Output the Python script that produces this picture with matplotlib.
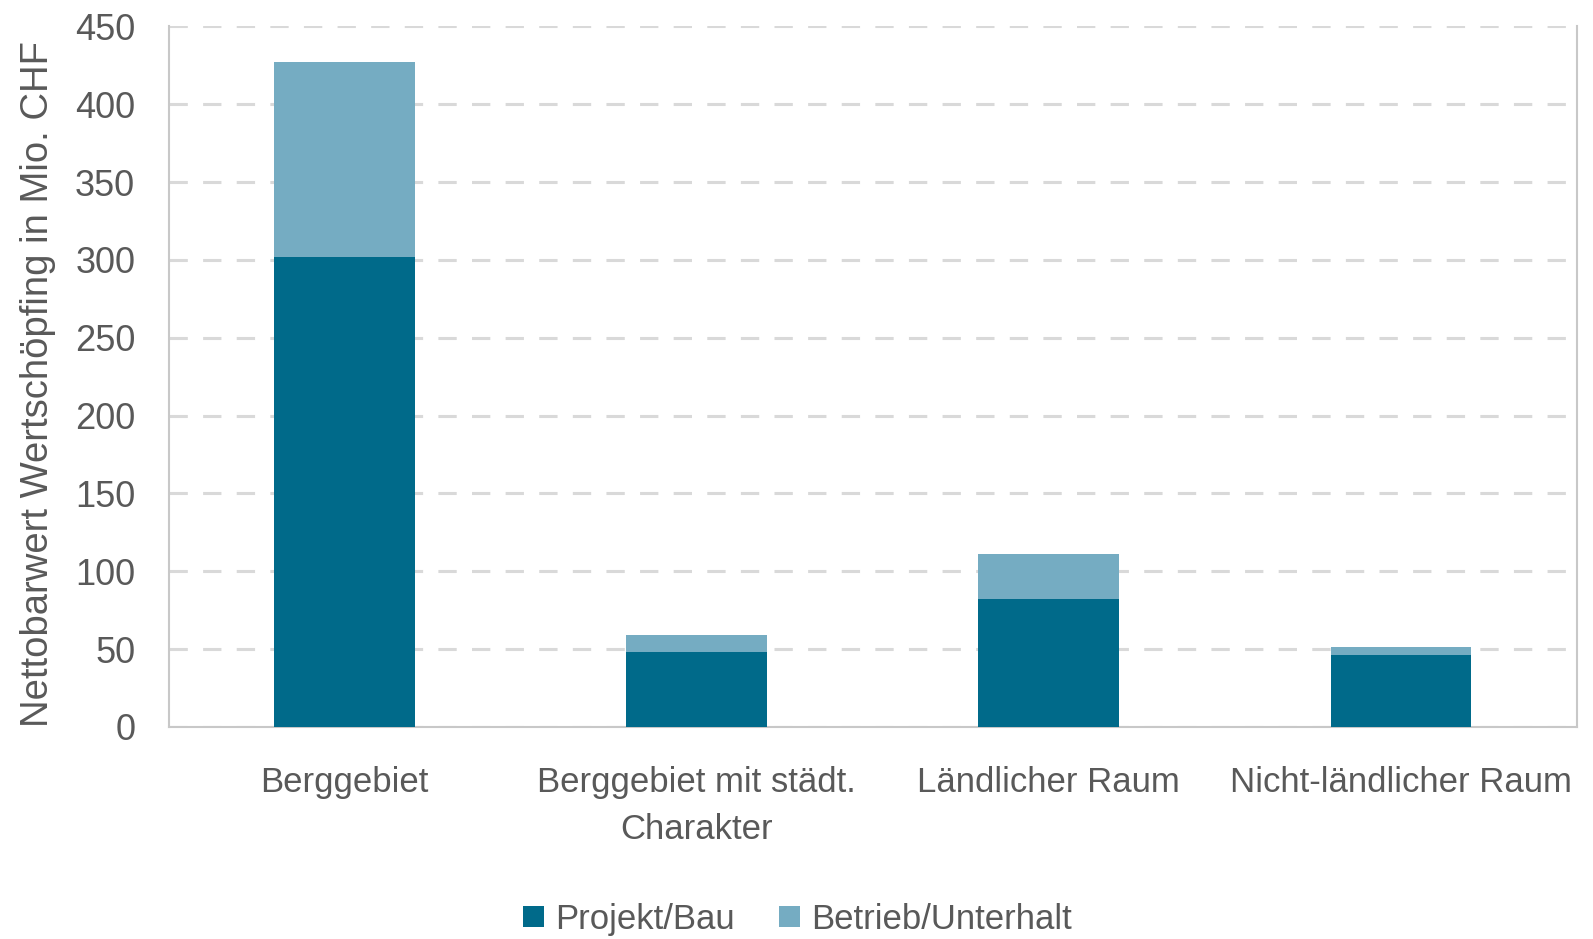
import matplotlib
matplotlib.use("Agg")
import matplotlib.pyplot as plt
import numpy as np

categories = ["Berggebiet", "Berggebiet mit städt.\nCharakter", "Ländlicher Raum", "Nicht-ländlicher Raum"]
projekt_bau = [302, 48, 82, 46]
betrieb_unterhalt = [125, 11, 29, 5.5]
series_names = ["Projekt/Bau", "Betrieb/Unterhalt"]
yticks = [0, 50, 100, 150, 200, 250, 300, 350, 400, 450]
ylabel = "Nettobarwert Wertschöpfing in Mio. CHF"

plt.rcParams['font.family'] = ['Liberation Sans', 'DejaVu Sans']

dark = "#006A8A"
light = "#75ACC2"
txt = "#595959"

fig = plt.figure(figsize=(15.93, 9.39), dpi=100)
ax = fig.add_axes([0.1058, 0.2258, 0.990 - 0.1058, 0.9719 - 0.2258])

x = np.arange(len(categories))
ax.bar(x, projekt_bau, width=0.4, color=dark, label=series_names[0], zorder=3)
ax.bar(x, betrieb_unterhalt, width=0.4, bottom=projekt_bau, color=light, label=series_names[1], zorder=3)

ax.set_xlim(-0.5, 3.5)
ax.set_ylim(0, 450)
ax.set_yticks(yticks)
ax.set_yticklabels([str(v) for v in yticks], fontsize=26, color=txt)
ax.set_xticks(x)
ax.set_xticklabels(categories, fontsize=25, color=txt, linespacing=1.55)
ax.tick_params(axis='both', length=0)
ax.tick_params(axis='y', pad=24)
ax.tick_params(axis='x', pad=28)

ax.yaxis.grid(True, color="#D9D9D9", linestyle=(0, (6, 5)), linewidth=2.2, zorder=0)
ax.set_axisbelow(True)
for s in ["left", "right", "bottom"]:
    ax.spines[s].set_color("#C8C8C8")
    ax.spines[s].set_linewidth(1.5)
ax.spines["top"].set_visible(False)

ax.set_ylabel(ylabel, fontsize=27.5, color=txt)
ax.yaxis.set_label_coords(-0.080, 0.49)

leg = fig.legend(loc="center", bbox_to_anchor=(0.5006, 0.021), ncol=2, frameon=False,
                 fontsize=25, handlelength=0.58, handleheight=0.58, handletextpad=0.32,
                 columnspacing=1.3, borderpad=0, borderaxespad=0)
for t in leg.get_texts():
    t.set_color(txt)

fig.savefig("out.png", dpi=100)
